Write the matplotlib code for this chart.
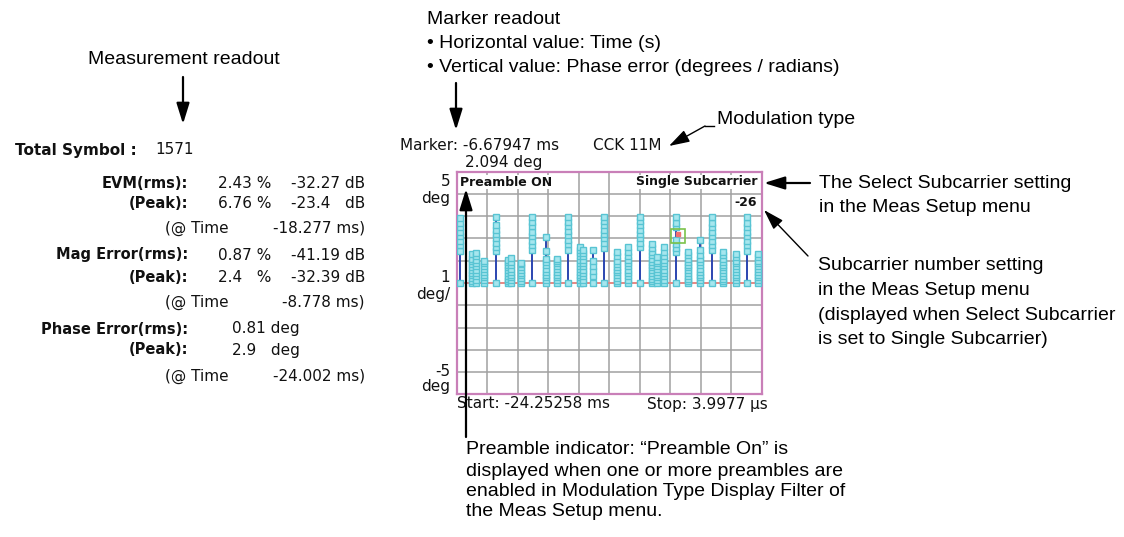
import matplotlib
matplotlib.use("Agg")
import matplotlib.pyplot as plt
import numpy as np

# ---- data ----
t_start = -24.25258   # ms
t_stop = 0.0039977    # ms (3.9977 us)

# time of each stem cluster (ms) and the phase error points in it (deg)
stem_times = [
    -23.99, -23.05, -22.75, -22.06, -21.15, -20.20, -19.95, -19.14,
    -18.24, -17.17, -16.30, -15.38, -14.45, -14.20, -13.44, -12.54,
    -11.53, -10.65, -9.67, -8.74, -8.35, -7.74, -6.84, -5.83,
    -4.90, -3.97, -3.05, -2.06, -1.19, -0.27,
]
stem_values = [
    [0, 1.45, 1.7, 1.9, 2.1, 2.3, 2.5, 2.7, 2.9],
    [0, 0.1, 0.22, 0.35, 0.47, 0.6, 0.72, 0.85, 0.97, 1.1, 1.3],
    [0, 0.15, 0.3, 0.45, 0.6, 0.75, 0.9, 1.05, 1.2, 1.35],
    [0, 0.12, 0.25, 0.38, 0.5, 0.62, 0.75, 0.88, 1.0],
    [0, 1.45, 1.6, 1.8, 2.0, 2.2, 2.4, 2.6, 2.95],
    [0, 0.1, 0.2, 0.32, 0.45, 0.58, 0.7, 0.82, 0.95, 1.05],
    [0, 0.12, 0.25, 0.37, 0.5, 0.65, 0.8, 0.95, 1.12],
    [0, 0.1, 0.22, 0.35, 0.47, 0.6, 0.72, 0.85, 0.9],
    [0, 1.5, 1.7, 1.9, 2.1, 2.3, 2.55, 2.75, 2.95],
    [0, 0.12, 0.25, 0.38, 0.5, 0.65, 0.8, 0.95, 1.1, 1.45, 2.07],
    [0, 0.12, 0.25, 0.37, 0.5, 0.62, 0.75, 0.88, 1.0, 1.1],
    [0, 1.5, 1.75, 1.95, 2.15, 2.35, 2.55, 2.75, 2.95],
    [0, 0.12, 0.25, 0.38, 0.5, 0.62, 0.75, 0.9, 1.05, 1.2, 1.35, 1.5, 1.62],
    [0, 0.15, 0.3, 0.45, 0.6, 0.75, 0.9, 1.05, 1.2, 1.35, 1.47],
    [0, 0.3, 0.55, 0.75, 1.0, 1.5],
    [0, 1.55, 1.8, 2.0, 2.2, 2.4, 2.6, 2.8, 2.95],
    [0, 0.1, 0.22, 0.35, 0.48, 0.6, 0.72, 0.85, 1.0, 1.2, 1.4],
    [0, 0.15, 0.3, 0.45, 0.6, 0.75, 0.9, 1.05, 1.2, 1.4, 1.6],
    [0, 1.6, 1.8, 2.0, 2.2, 2.4, 2.6, 2.8, 2.95],
    [0, 0.1, 0.2, 0.32, 0.45, 0.58, 0.7, 0.82, 0.95, 1.1, 1.25, 1.4, 1.55, 1.77],
    [0, 0.12, 0.25, 0.38, 0.5, 0.62, 0.75, 0.88, 1.0, 1.17],
    [0, 0.15, 0.3, 0.45, 0.6, 0.75, 0.9, 1.05, 1.2, 1.4, 1.6],
    [0, 1.4, 1.55, 1.75, 1.95, 2.5, 2.7, 2.95],
    [0, 0.1, 0.2, 0.32, 0.45, 0.58, 0.7, 0.82, 0.95, 1.1, 1.25, 1.4],
    [0, 0.12, 0.25, 0.38, 0.5, 0.65, 0.8, 0.95, 1.1, 1.25, 1.5, 1.92],
    [0, 1.5, 1.7, 1.9, 2.1, 2.3, 2.5, 2.7, 2.95],
    [0, 0.1, 0.2, 0.32, 0.45, 0.58, 0.7, 0.82, 0.95, 1.1, 1.25, 1.4],
    [0, 0.12, 0.25, 0.38, 0.5, 0.62, 0.75, 0.88, 1.0, 1.15, 1.3],
    [0, 1.45, 1.7, 1.9, 2.1, 2.3, 2.5, 2.7, 2.95],
    [0, 0.12, 0.25, 0.38, 0.5, 0.62, 0.75, 0.88, 1.0, 1.15, 1.32],
]
marker_t = -6.67947
marker_deg = 2.094

readout_labels = ["EVM(rms):", "(Peak):", "Mag Error(rms):", "(Peak):"]
readout_pct = ["2.43 %", "6.76 %", "0.87 %", "2.4   %"]
readout_db = ["-32.27 dB", "-23.4   dB", "-41.19 dB", "-32.39 dB"]
peak_times = ["-18.277 ms)", "-8.778 ms)", "-24.002 ms)"]

W, H = 1124, 537
fig = plt.figure(figsize=(W / 100, H / 100), dpi=100)

SCREEN = "DejaVu Sans"
NOTE = "Liberation Sans"


def px_axes(left, top, right, bottom):
    return fig.add_axes([left / W, 1 - bottom / H, (right - left) / W, (bottom - top) / H])


# ---- the phase error trace ----
ax = px_axes(456.7, 171.7, 761.7, 394.3)
ax.set_xlim(t_start, t_stop)
ax.set_ylim(-5, 5)
ax.set_xticks(np.linspace(t_start, t_stop, 11))
ax.set_yticks(range(-5, 6))
ax.tick_params(length=0, labelbottom=False, labelleft=False)
ax.grid(color="#a0a0a0", lw=1.1)
ax.set_axisbelow(True)
for s in ax.spines.values():
    s.set_color("#c97fb8")
    s.set_linewidth(1.6)
ax.axhline(0, color="#f4827c", lw=1.2, zorder=2)
for t, vals in zip(stem_times, stem_values):
    ax.vlines(t, 0, max(vals), color="#2b45b0", lw=1.4, zorder=3)
    ax.plot([t] * len(vals), vals, ls="none", marker="s", ms=4,
            mfc="#a6e6ee", mec="#58c4d3", mew=1.0, zorder=4)
ax.plot(marker_t, marker_deg + 0.12, marker="s", ms=3, color="#f07070", zorder=5)
ax.plot(marker_t, marker_deg, marker="s", ms=10, mfc="none", mec="#7cc24a", mew=1.2, zorder=6)

# ---- overlay in pixel coordinates for all texts and call-outs ----
ann = fig.add_axes([0, 0, 1, 1])
ann.set_xlim(0, W)
ann.set_ylim(H, 0)
ann.axis("off")


def scr(x, y, s, ha="left", bold=False, size=11, **kw):
    ann.text(x, y, s, ha=ha, va="center", family=SCREEN, fontsize=size,
             fontweight="bold" if bold else "normal", color="#111111", **kw)


def note(x, y, s):
    ann.text(x, y, s, ha="left", va="center", family=NOTE, fontsize=14, color="black")


def arrow(tail, head, lw=1.6):
    ann.annotate("", xy=head, xytext=tail,
                 arrowprops=dict(arrowstyle="-|>,head_length=0.9,head_width=0.28",
                                 color="black", lw=lw, shrinkA=0, shrinkB=0,
                                 mutation_scale=14))


# measurement readout
scr(15, 150, "Total Symbol :", bold=True, size=11)
scr(155, 150, "1571")
rows_y = [183, 203, 255, 277]
for y, lab, p, d in zip(rows_y, readout_labels, readout_pct, readout_db):
    scr(188, y, lab, ha="right", bold=True, size=10.5)
    scr(218, y, p)
    scr(365, y, d, ha="right")
for y, pt in zip([228, 302, 376], peak_times):
    scr(165, y, "(@ Time")
    scr(365, y, pt, ha="right")
scr(188, 329, "Phase Error(rms):", ha="right", bold=True, size=10.5)
scr(232, 329, "0.81 deg")
scr(188, 350, "(Peak):", ha="right", bold=True, size=10.5)
scr(232, 350, "2.9   deg")

# screen header / scale / footer
scr(400, 145, "Marker: -6.67947 ms")
scr(593, 145, "CCK 11M")
scr(465, 163, "2.094 deg")
scr(450, 181, "5", ha="right")
scr(450, 199, "deg", ha="right")
scr(450, 277, "1", ha="right")
scr(450, 294, "deg/", ha="right")
scr(450, 371, "-5", ha="right")
scr(450, 387, "deg", ha="right")
scr(457, 404, "Start: -24.25258 ms")
scr(647, 404, "Stop: 3.9977 \u00b5s")
box = dict(facecolor="white", edgecolor="none", pad=0.5)
scr(460, 182, "Preamble ON", bold=True, size=9, bbox=box)
scr(757, 182, "Single Subcarrier", ha="right", bold=True, size=9, bbox=box)
scr(757, 203, "-26", ha="right", bold=True, size=9, bbox=box)

# call-outs
note(88, 59, "Measurement readout")
arrow((183, 77), (183, 124))

note(427, 20, "Marker readout")
note(427, 43, "\u2022 Horizontal value: Time (s)")
note(427, 67, "\u2022 Vertical value: Phase error (degrees / radians)")
arrow((456, 83), (456, 130))

note(717, 120, "Modulation type")
ann.plot([705, 714], [126, 126], color="black", lw=1.0)
arrow((705, 126), (669, 146), lw=1.0)

arrow((810, 183), (764, 183))
note(819, 183, "The Select Subcarrier setting")
note(819, 207, "in the Meas Setup menu")

arrow((808, 256), (764, 210), lw=1.0)
for y, s in zip([266, 290.5, 315, 339.5],
                ["Subcarrier number setting", "in the Meas Setup menu",
                 "(displayed when Select Subcarrier", "is set to Single Subcarrier)"]):
    note(818, y, s)

arrow((466, 437), (466, 189))
for y, s in zip([450, 471, 491.5, 512],
                ["Preamble indicator: \u201cPreamble On\u201d is",
                 "displayed when one or more preambles are",
                 "enabled in Modulation Type Display Filter of",
                 "the Meas Setup menu."]):
    note(466, y, s)

fig.savefig("out.png", dpi=100)
